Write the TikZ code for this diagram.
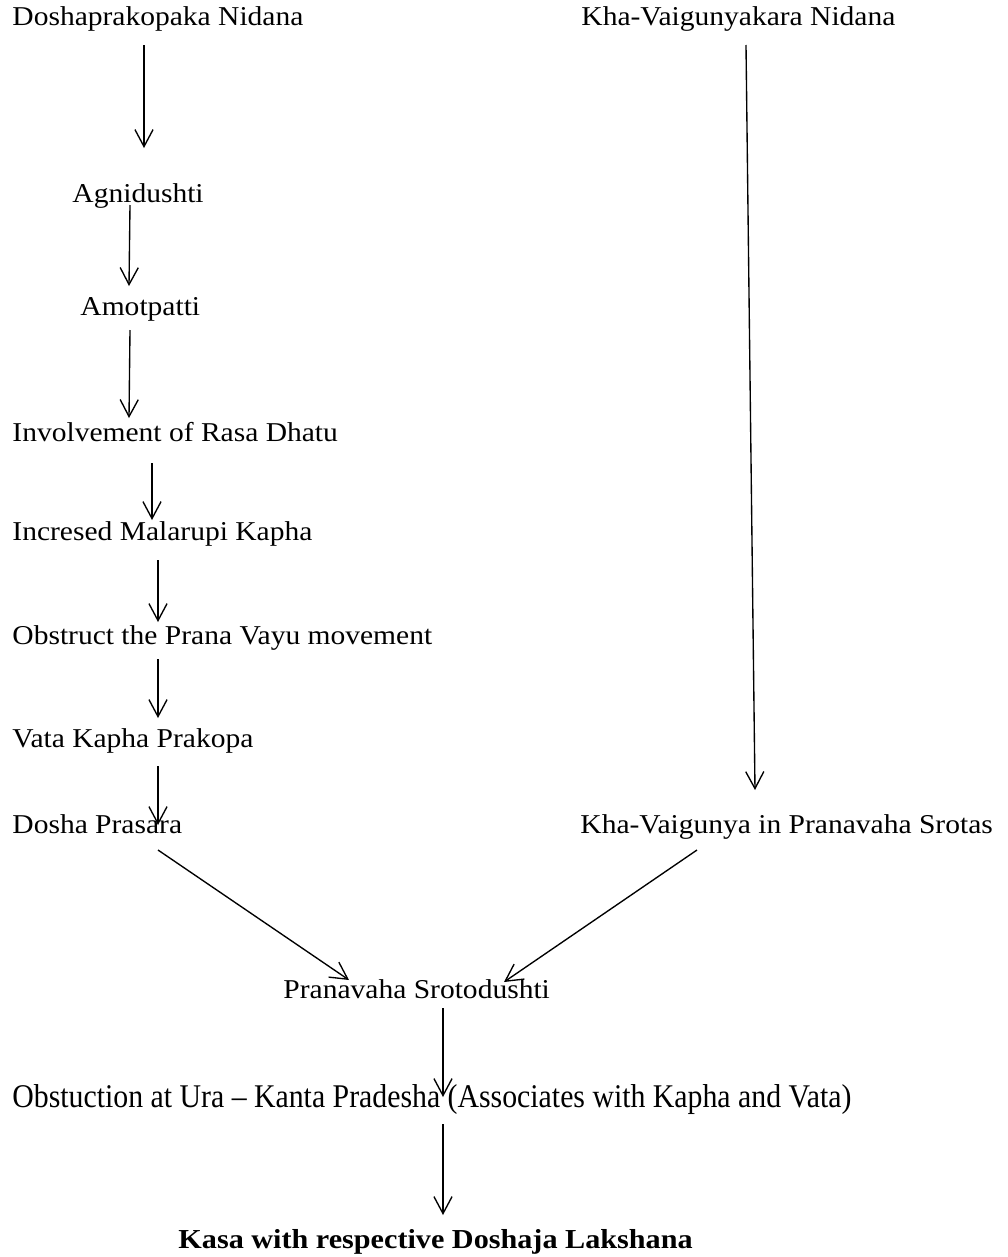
\documentclass[tikz,border=0pt]{standalone}
\usepackage{fontspec}
\setmainfont[FakeStretch=1.085]{Liberation Serif}
\newfontfamily\obstfont[FakeStretch=0.9]{Liberation Serif}
\newfontfamily\kasafont[FakeStretch=1.1]{Liberation Serif}
\usetikzlibrary{arrows.meta}

\begin{document}
\begin{tikzpicture}[x=0.441pt, y=-0.441pt]
                \tikzstyle{txt} = [anchor=base west, inner sep=0pt, font=\fontsize{12}{14}\selectfont]
                \tikzstyle{obsttxt} = [txt, font=\obstfont\fontsize{14.6}{17}\selectfont]
                \tikzstyle{kasatxt} = [txt, font=\kasafont\bfseries\fontsize{12.1}{14}\selectfont]
                \tikzstyle{arrow} = [line width=0.6pt, -{Straight Barb[length=7.5pt,width=8pt]}]

                \useasboundingbox (0,0) rectangle (1008,1257);

                % left column
                \node (dosha) [txt] at (12,25) {Doshaprakopaka Nidana};
                \node (agni) [txt] at (72,202) {Agnidushti};
                \node (amot) [txt] at (80,315) {Amotpatti};
                \node (rasa) [txt] at (12,441) {Involvement of Rasa Dhatu};
                \node (kapha) [txt] at (12,540) {Incresed Malarupi Kapha};
                \node (prana) [txt] at (12,644) {Obstruct the Prana Vayu movement};
                \node (prakopa) [txt] at (12,747) {Vata Kapha Prakopa};
                \node (prasara) [txt] at (12,833) {Dosha Prasara};

                % right column
                \node (kha) [txt] at (581,25) {Kha-Vaigunyakara Nidana};
                \node (khasrotas) [txt] at (580,833) {Kha-Vaigunya in Pranavaha Srotas};

                % bottom
                \node (sroto) [txt] at (283,998) {Pranavaha Srotodushti};
                \node (obst) [obsttxt] at (12,1107) {Obstuction at Ura – Kanta Pradesha (Associates with Kapha and Vata)};
                \node (kasa) [kasatxt] at (178,1248) {Kasa with respective Doshaja Lakshana};

                \draw [arrow] ([shift={(132,20)}]dosha.base west) -- ([shift={(72,-54)}]agni.base west);
                \draw [arrow] ([shift={(58,3)}]agni.base west) -- ([shift={(49,-29)}]amot.base west);
                \draw [arrow] ([shift={(50,15)}]amot.base west) -- ([shift={(117,-23)}]rasa.base west);
                \draw [arrow] ([shift={(140,22)}]rasa.base west) -- ([shift={(140,-20)}]kapha.base west);
                \draw [arrow] ([shift={(146,20)}]kapha.base west) -- ([shift={(146,-22)}]prana.base west);
                \draw [arrow] ([shift={(146,15)}]prana.base west) -- ([shift={(146,-29)}]prakopa.base west);
                \draw [arrow] ([shift={(146,19)}]prakopa.base west) -- ([shift={(146,-8)}]prasara.base west);
                \draw [arrow] ([shift={(165,20)}]kha.base west) -- ([shift={(175,-43)}]khasrotas.base west);
                \draw [arrow] ([shift={(146,17)}]prasara.base west) -- ([shift={(66,-18)}]sroto.base west);
                \draw [arrow] ([shift={(117,17)}]khasrotas.base west) -- ([shift={(221,-16)}]sroto.base west);
                \draw [arrow] ([shift={(160,10)}]sroto.base west) -- ([shift={(431,-10)}]obst.base west);
                \draw [arrow] ([shift={(431,17)}]obst.base west) -- ([shift={(265,-33)}]kasa.base west);
            \end{tikzpicture}
\end{document}
